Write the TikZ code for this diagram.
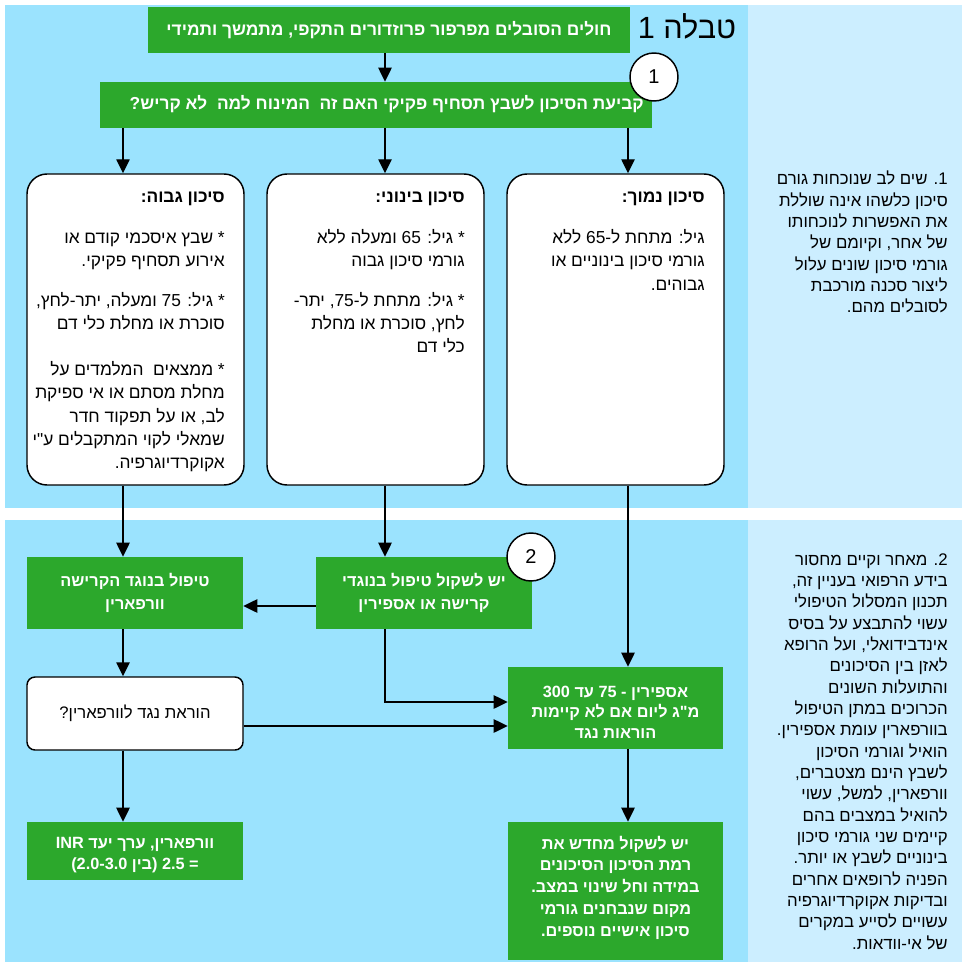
\documentclass[tikz,border=0pt]{standalone}
\usepackage{fontspec}
\newfontfamily\hebfont[Script=Hebrew]{Liberation Sans}
\TeXXeTstate=1
\usetikzlibrary{arrows.meta}
\newcommand{\hebl}[1]{\beginR #1\endR}
\definecolor{gr}{RGB}{44,168,44}
\definecolor{bl}{RGB}{155,227,254}
\definecolor{lbl}{RGB}{204,238,255}
\begin{document}
\begin{tikzpicture}[x=0.75pt,y=-0.75pt,
  gbox/.style={fill=gr, draw=none, inner sep=0pt, text=white, font=\hebfont\bfseries\fontsize{12.2}{17.25}\selectfont, align=center},
  rbox/.style={fill=white, draw=black, line width=1.1pt, rounded corners=15pt, inner sep=0pt},
  arr/.style={line width=1.1pt, -{Triangle[length=10.5pt,width=10pt]}},
  txt/.style={inner sep=0pt, align=right, font=\hebfont\fontsize{13}{17.5}\selectfont},
  note/.style={inner sep=0pt, align=right, font=\hebfont\fontsize{12.6}{16}\selectfont},
  num/.style={circle, draw=black, fill=white, line width=1.1pt, minimum size=36pt, inner sep=0pt, font=\hebfont\fontsize{15}{18}\selectfont}
]
\useasboundingbox (0,0) rectangle (964,963);
\fill[white] (0,0) rectangle (964,963);
\fill[bl] (5,5) rectangle (748,508);
\fill[lbl] (748,5) rectangle (962,508);
\fill[bl] (5,520) rectangle (748,962);
\fill[lbl] (748,520) rectangle (962,962);

\coordinate (xa) at (123,0);
\coordinate (xb) at (385,0);
\coordinate (xc) at (628,0);
\coordinate (ya) at (0,606);
\coordinate (yb) at (0,702);
\coordinate (yc) at (0,726);

% top
\node[gbox, minimum width=361.5pt, minimum height=34.5pt, font=\hebfont\bfseries\fontsize{13}{15}\selectfont] (hdr) at (389,30)
  {\hebl{חולים הסובלים מפרפור פרוזדורים התקפי, מתמשך ותמידי}};
\node[inner sep=0pt, font=\hebfont\fontsize{23}{25}\selectfont] (ttl) at (687,26) {\hebl{טבלה 1}};
\node[gbox, minimum width=414pt, minimum height=34.5pt] (q) at (376,105) {};
\node[inner sep=0pt, anchor=east, text=white, font=\hebfont\bfseries\fontsize{13}{15}\selectfont] (qt) at (644,104)
  {\hebl{קביעת הסיכון לשבץ תסחיף פקיקי האם זה\ \ המינוח למה\ \ לא קריש?}};

\node[rbox, minimum width=162.75pt, minimum height=233.25pt] (lb) at (135.5,329.5) {};
\node[rbox, minimum width=162.75pt, minimum height=233.25pt] (mb) at (375.5,329.5) {};
\node[rbox, minimum width=162.75pt, minimum height=233.25pt] (rb) at (615.5,329.5) {};

\node[txt, anchor=north east] (lbt) at (225,192) {%
\hebl{\textbf{סיכון גבוה:}}\\[13pt]
\hebl{* שבץ איסכמי קודם או}\\
\hebl{אירוע תסחיף פקיקי.}\\[12pt]
\hebl{* גיל: 75 ומעלה, יתר-לחץ,}\\
\hebl{סוכרת או מחלת כלי דם}\\[17pt]
\hebl{* ממצאים\ \ המלמדים על}\\
\hebl{מחלת מסתם או אי ספיקת}\\
\hebl{לב, או על תפקוד חדר}\\
\hebl{שמאלי לקוי המתקבלים ע"י}\\
\hebl{אקוקרדיוגרפיה.}};

\node[txt, anchor=north east] (mbt) at (465,192) {%
\hebl{\textbf{סיכון בינוני:}}\\[13pt]
\hebl{* גיל: 65 ומעלה ללא}\\
\hebl{גורמי סיכון גבוה}\\[12pt]
\hebl{* גיל: מתחת ל-75, יתר-}\\
\hebl{לחץ, סוכרת או מחלת}\\
\hebl{כלי דם}};

\node[txt, anchor=north east] (rbt) at (705,192) {%
\hebl{\textbf{סיכון נמוך:}}\\[13pt]
\hebl{גיל: מתחת ל-65 ללא}\\
\hebl{גורמי סיכון בינוניים או}\\
\hebl{גבוהים.}};

\node[note, anchor=north east] (n1) at (948,171) {%
\hebl{1. שים לב שנוכחות גורם}\\
\hebl{סיכון כלשהו אינה שוללת}\\
\hebl{את האפשרות לנוכחותו}\\
\hebl{של אחר, וקיומם של}\\
\hebl{גורמי סיכון שונים עלול}\\
\hebl{ליצור סכנה מורכבת}\\
\hebl{לסובלים מהם.}};

% bottom
\node[gbox, minimum width=162pt, minimum height=54pt] (lg) at (135,593)
  {\hebl{טיפול בנוגד הקרישה}\\\hebl{וורפארין}};
\node[gbox, minimum width=162pt, minimum height=54pt] (mg) at (424,593)
  {\hebl{יש לשקול טיפול בנוגדי}\\\hebl{קרישה או אספירין}};
\node[rbox, rounded corners=6pt, minimum width=162pt, minimum height=54.75pt, font=\hebfont\fontsize{12.5}{15}\selectfont] (lq) at (135,713.5)
  {\hebl{הוראת נגד לוורפארין?}};
\node[gbox, minimum width=162pt, minimum height=43.5pt] (lf) at (135,851) {};
\node[inner sep=0pt, align=center, text=white, font=\hebfont\bfseries\fontsize{12.2}{16}\selectfont] (lft) at (135,855)
  {\hebl{וורפארין, ערך יעד INR}\\\hebl{= 2.5 (בין 2.0-3.0)}};
\node[gbox, minimum width=161.25pt, minimum height=61.5pt] (ra) at (615.5,708) {};
\node[inner sep=0pt, align=center, text=white, font=\hebfont\bfseries\fontsize{12.2}{15.5}\selectfont] (rat) at (615.5,712)
  {\hebl{אספירין - 75 עד 300}\\\hebl{מ"ג ליום אם לא קיימות}\\\hebl{הוראות נגד}};
\node[gbox, minimum width=161.25pt, minimum height=103.5pt] (rf) at (615.5,891) {};
\node[inner sep=0pt, align=center, text=white, font=\hebfont\bfseries\fontsize{12.2}{16.3}\selectfont] (rft) at (615.5,887.5)
  {\hebl{יש לשקול מחדש את}\\\hebl{רמת הסיכון הסיכונים}\\\hebl{במידה וחל שינוי במצב.}\\\hebl{מקום שנבחנים גורמי}\\\hebl{סיכון אישיים נוספים.}};

\node[note, anchor=north east] (n2) at (948,553) {%
\hebl{2. מאחר וקיים מחסור}\\
\hebl{בידע הרפואי בעניין זה,}\\
\hebl{תכנון המסלול הטיפולי}\\
\hebl{עשוי להתבצע על בסיס}\\
\hebl{אינדבידואלי, ועל הרופא}\\
\hebl{לאזן בין הסיכונים}\\
\hebl{והתועלות השונים}\\
\hebl{הכרוכים במתן הטיפול}\\
\hebl{בוורפארין עומת אספירין.}\\
\hebl{הואיל וגורמי הסיכון}\\
\hebl{לשבץ הינם מצטברים,}\\
\hebl{וורפארין, למשל, עשוי}\\
\hebl{להואיל במצבים בהם}\\
\hebl{קיימים שני גורמי סיכון}\\
\hebl{בינוניים לשבץ או יותר.}\\
\hebl{הפניה לרופאים אחרים}\\
\hebl{ובדיקות אקוקרדיוגרפיה}\\
\hebl{עשויים לסייע במקרים}\\
\hebl{של אי-וודאות.}};

% connectors
\draw[arr] (xb |- hdr.south) -- (xb |- q.north);
\draw[arr] (xa |- q.south) -- (xa |- lb.north);
\draw[arr] (xb |- q.south) -- (xb |- mb.north);
\draw[arr] (xc |- q.south) -- (xc |- rb.north);
\draw[arr] (xa |- lb.south) -- (xa |- lg.north);
\draw[arr] (xb |- mb.south) -- (xb |- mg.north);
\draw[arr] (xc |- rb.south) -- (xc |- ra.north);
\draw[arr] (mg.west |- ya) -- (lg.east |- ya);
\draw[arr] (xb |- mg.south) |- (ra.west |- yb);
\draw[arr] (lq.east |- yc) -- (ra.west |- yc);
\draw[arr] (xa |- lg.south) -- (xa |- lq.north);
\draw[arr] (xa |- lq.south) -- (xa |- lf.north);
\draw[arr] (xc |- ra.south) -- (xc |- rf.north);

\node[num] (c1) at (654,77) {1};
\node[num] (c2) at (531,557) {2};
\end{tikzpicture}
\end{document}
